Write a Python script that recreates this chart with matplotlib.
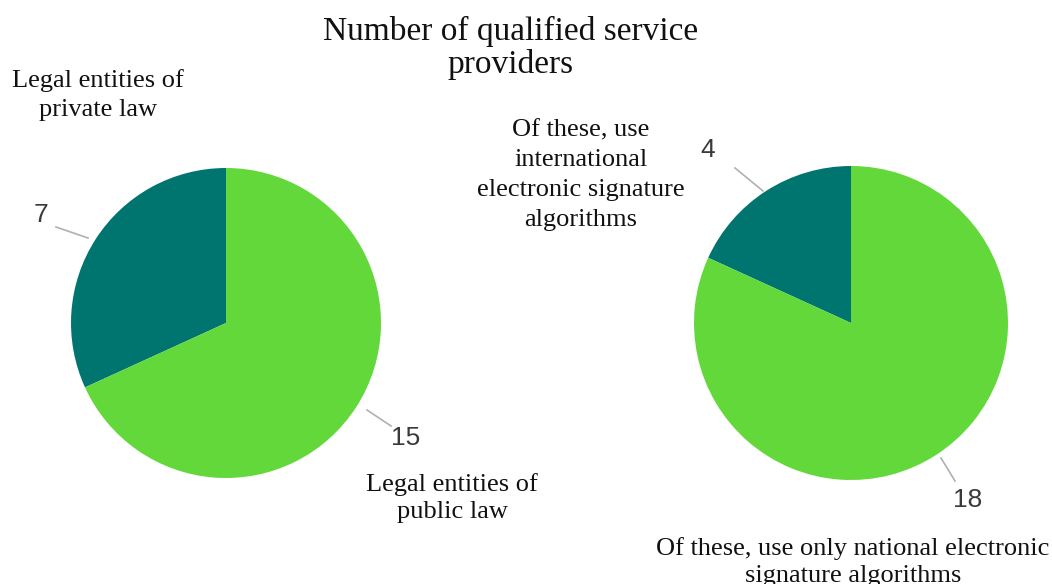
import matplotlib
matplotlib.use('Agg')
import matplotlib.pyplot as plt
from matplotlib.lines import Line2D

# 数据
left_values = [7, 15]
left_names = ['Legal entities of\nprivate law', 'Legal entities of\npublic law']
right_values = [4, 18]
right_names = ['Of these, use\ninternational\nelectronic signature\nalgorithms',
               'Of these, use only national electronic\nsignature algorithms']
title = 'Number of qualified service\nproviders'

dark = '#00756f'
light = '#62d83a'
W, H = 1052, 584

fig = plt.figure(figsize=(W / 100, H / 100), dpi=100)


def fx(x):
    return x / W


def fy(y):
    return 1 - y / H


def pie_axes(cx, cy, r):
    ax = fig.add_axes([fx(cx - r), fy(cy + r), 2 * r / W, 2 * r / H])
    ax.axis('off')
    return ax


def leader(x0, y0, x1, y1):
    fig.add_artist(Line2D([fx(x0), fx(x1)], [fy(y0), fy(y1)], color='#b0b0b0',
                          lw=1.2, transform=fig.transFigure))


serif = dict(family='Liberation Serif', color='#111111', ha='center', va='center')
sans = dict(family='Liberation Sans', color='#3a3a3a', ha='center', va='center', fontsize=19)

# 左边饼图
ax1 = pie_axes(226, 323, 155)
ax1.pie(left_values, colors=[dark, light], startangle=90, radius=1,
        wedgeprops=dict(linewidth=0))
ax1.set_xlim(-1, 1)
ax1.set_ylim(-1, 1)

# 右边饼图
ax2 = pie_axes(851, 323, 157)
ax2.pie(right_values, colors=[dark, light], startangle=90, radius=1,
        wedgeprops=dict(linewidth=0))
ax2.set_xlim(-1, 1)
ax2.set_ylim(-1, 1)

# 标题
fig.text(fx(511), fy(48), title, fontsize=24, linespacing=1.08, **serif)

# 标签
fig.text(fx(98), fy(95), left_names[0], fontsize=19, linespacing=1.4, **serif)
fig.text(fx(452), fy(498), left_names[1], fontsize=19, linespacing=1.35, **serif)
fig.text(fx(581), fy(175), right_names[0], fontsize=19, linespacing=1.47, **serif)
fig.text(fx(853), fy(562), right_names[1], fontsize=19, linespacing=1.3, **serif)

# 数值和引线
fig.text(fx(41), fy(215), str(left_values[0]), **sans)
leader(56, 227, 88, 238)
fig.text(fx(406), fy(438), str(left_values[1]), **sans)
leader(367, 410, 391, 426)
fig.text(fx(708), fy(150), str(right_values[0]), **sans)
leader(735, 168, 763, 191)
fig.text(fx(968), fy(500), str(right_values[1]), **sans)
leader(941, 458, 955, 481)

fig.savefig('out.png', dpi=100)
